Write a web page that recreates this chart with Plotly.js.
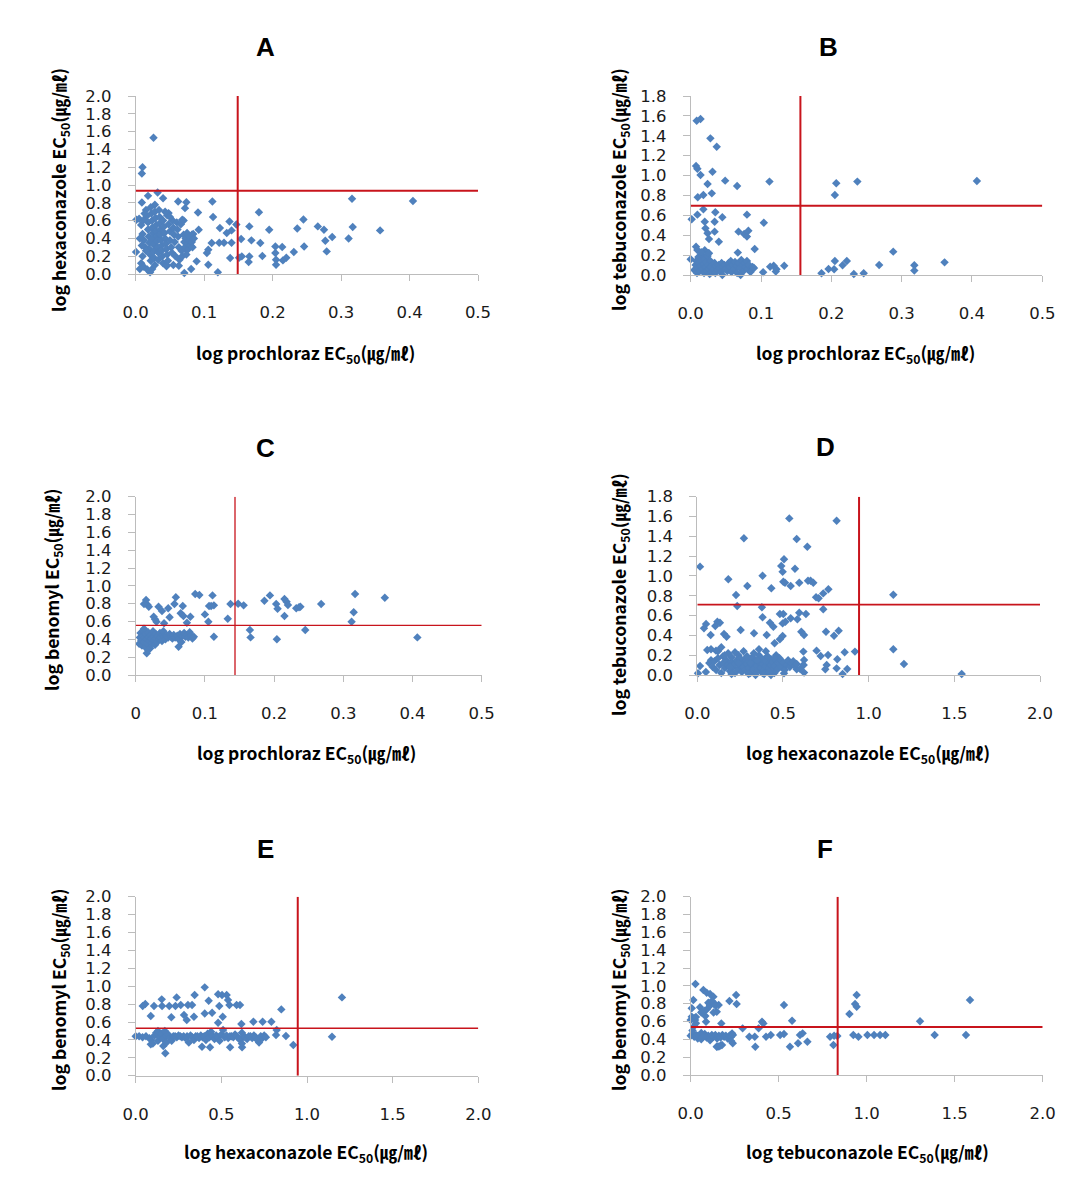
<!DOCTYPE html>
<html>
<head>
<meta charset="utf-8">
<script src="https://cdn.plot.ly/plotly-3.0.1.min.js"></script>
<style>
html,body{margin:0;padding:0;background:#fff;}
#chart{width:1085px;height:1194px;}
</style>
</head>
<body>
<div id="chart"></div>
<script>
// ---------------- DATA ----------------
const panelLetters = ['A','B','C','D','E','F'];
const xTitles = ['log prochloraz EC<sub>50</sub>(㎍/㎖)','log prochloraz EC<sub>50</sub>(㎍/㎖)','log prochloraz EC<sub>50</sub>(㎍/㎖)','log hexaconazole EC<sub>50</sub>(㎍/㎖)','log hexaconazole EC<sub>50</sub>(㎍/㎖)','log tebuconazole EC<sub>50</sub>(㎍/㎖)'];
const yTitles = ['log hexaconazole EC<sub>50</sub>(㎍/㎖)','log tebuconazole EC<sub>50</sub>(㎍/㎖)','log benomyl EC<sub>50</sub>(㎍/㎖)','log tebuconazole EC<sub>50</sub>(㎍/㎖)','log benomyl EC<sub>50</sub>(㎍/㎖)','log benomyl EC<sub>50</sub>(㎍/㎖)'];
const xMax = [0.5, 0.5, 0.5, 2.0, 2.0, 2.0];
const yMax = [2.0, 1.8, 2.0, 1.8, 2.0, 2.0];
const xTickStep = [0.1, 0.1, 0.1, 0.5, 0.5, 0.5];
const xTickFmt = ['.1f', '.1f', '', '.1f', '.1f', '.1f'];
const cutX = [0.149, 0.156, 0.1435, 0.944, 0.946, 0.835];
const cutY = [0.936, 0.697, 0.557, 0.710, 0.530, 0.538];

// Panel A: prochloraz (x) vs hexaconazole (y)
const ptsA = [
[0.026,1.53],[0.010,1.20],[0.009,1.13],[0.316,0.845],[0.405,0.82],[0.357,0.49],[0.317,0.527],[0.311,0.40],[0.287,0.415],[0.279,0.254],
[0.277,0.374],[0.275,0.497],[0.266,0.535],[0.245,0.613],[0.246,0.31],[0.236,0.512],[0.231,0.247],[0.220,0.183],[0.215,0.153],[0.214,0.303],
[0.204,0.31],[0.204,0.236],[0.205,0.16],[0.205,0.105],[0.195,0.497],[0.185,0.202],[0.182,0.348],[0.180,0.695],[0.169,0.378],[0.166,0.535],
[0.166,0.198],[0.165,0.135],[0.154,0.393],[0.155,0.198],[0.151,0.183],[0.147,0.557],[0.140,0.49],[0.137,0.59],[0.140,0.351],[0.138,0.179],
[0.133,0.46],[0.129,0.351],[0.122,0.351],[0.123,0.516],[0.120,0.019],[0.113,0.64],[0.112,0.815],[0.111,0.348],[0.106,0.273],[0.104,0.236],
[0.106,0.105],[0.091,0.69],[0.092,0.497],[0.089,0.142],[0.081,0.056],[0.071,0.011],[0.074,0.807],[0.072,0.74],[0.082,0.44],[0.078,0.348],
[0.074,0.273],[0.062,0.815],[0.068,0.61],[0.063,0.093],[0.045,0.086],[0.040,0.852],[0.032,0.916],[0.018,0.878],[0.028,0.778],[0.009,0.804],
[0.0005,0.247],[0.001,0.61],[0.021,0.019],[0.024,0.056],[0.006,0.056],[0.048,0.684],
[0.005,0.62],[0.008,0.55],[0.010,0.45],[0.012,0.38],[0.014,0.30],[0.010,0.20],[0.008,0.12],[0.012,0.08],[0.015,0.72],[0.016,0.65],
[0.018,0.58],[0.018,0.50],[0.019,0.42],[0.020,0.35],[0.020,0.28],[0.021,0.22],[0.022,0.15],[0.022,0.75],[0.023,0.68],[0.024,0.60],
[0.024,0.52],[0.025,0.46],[0.025,0.40],[0.026,0.33],[0.027,0.26],[0.027,0.18],[0.028,0.10],[0.028,0.70],[0.029,0.63],[0.030,0.55],
[0.030,0.48],[0.031,0.42],[0.031,0.37],[0.032,0.30],[0.033,0.24],[0.033,0.16],[0.034,0.72],[0.035,0.64],[0.035,0.57],[0.036,0.50],
[0.036,0.44],[0.037,0.38],[0.038,0.32],[0.038,0.26],[0.039,0.20],[0.040,0.12],[0.040,0.60],[0.041,0.53],[0.042,0.46],[0.043,0.40],
[0.044,0.34],[0.045,0.28],[0.046,0.22],[0.046,0.66],[0.048,0.56],[0.050,0.48],[0.050,0.38],[0.052,0.30],[0.053,0.24],[0.054,0.60],
[0.055,0.52],[0.056,0.44],[0.057,0.36],[0.058,0.20],[0.060,0.58],[0.061,0.50],[0.062,0.42],[0.063,0.30],[0.064,0.16],[0.066,0.56],
[0.067,0.26],[0.068,0.20],[0.070,0.60],[0.070,0.44],[0.071,0.36],[0.072,0.30],[0.073,0.40],[0.074,0.22],[0.075,0.46],[0.076,0.34],
[0.077,0.28],[0.078,0.38],[0.079,0.42],[0.080,0.32],[0.082,0.36],[0.083,0.30],[0.084,0.45],[0.085,0.40],[0.015,0.26],[0.017,0.05],
[0.013,0.68],[0.006,0.40],[0.009,0.32],[0.011,0.60],[0.043,0.70],[0.045,0.10],[0.050,0.64],[0.047,0.15],[0.055,0.10]
];

// Panel B: prochloraz (x) vs tebuconazole (y)
const ptsB = [
[0.0085,1.552],[0.014,1.569],[0.028,1.374],[0.037,1.29],[0.0076,1.096],[0.0095,1.069],[0.014,1.006],[0.031,1.039],[0.049,0.949],[0.024,0.915],
[0.066,0.895],[0.112,0.939],[0.207,0.922],[0.237,0.939],[0.407,0.945],[0.205,0.805],[0.010,0.781],[0.018,0.805],[0.030,0.821],[0.018,0.66],
[0.0095,0.607],[0.0014,0.56],[0.035,0.63],[0.034,0.536],[0.045,0.58],[0.080,0.607],[0.104,0.526],[0.020,0.536],[0.021,0.469],[0.024,0.419],
[0.026,0.362],[0.034,0.436],[0.040,0.335],[0.068,0.436],[0.076,0.412],[0.080,0.386],[0.082,0.446],[0.091,0.261],[0.067,0.225],[0.0076,0.285],
[0.0095,0.251],[0.026,0.218],[0.022,0.184],[0.0,0.158],[0.288,0.235],[0.361,0.127],[0.318,0.097],[0.318,0.044],[0.268,0.10],[0.222,0.141],
[0.216,0.097],[0.205,0.141],[0.204,0.057],[0.196,0.06],[0.186,0.017],[0.232,0.01],[0.246,0.017],[0.133,0.094],[0.121,0.034],[0.118,0.094],
[0.113,0.084],[0.103,0.027],[0.122,0.057],
[0.005,0.05],[0.007,0.10],[0.008,0.14],[0.009,0.02],[0.010,0.07],[0.011,0.18],[0.012,0.12],[0.013,0.04],[0.014,0.09],[0.015,0.15],
[0.016,0.20],[0.017,0.06],[0.018,0.11],[0.019,0.02],[0.020,0.16],[0.021,0.08],[0.022,0.13],[0.023,0.04],[0.024,0.19],[0.025,0.10],
[0.026,0.06],[0.027,0.01],[0.028,0.14],[0.029,0.08],[0.030,0.03],[0.032,0.11],[0.033,0.06],[0.034,0.12],[0.035,0.02],[0.036,0.09],
[0.038,0.05],[0.040,0.10],[0.041,0.07],[0.043,0.03],[0.044,0.12],[0.045,0.00],[0.046,0.08],[0.048,0.10],[0.050,0.06],[0.052,0.04],
[0.054,0.12],[0.055,0.08],[0.057,0.14],[0.058,0.03],[0.060,0.10],[0.062,0.06],[0.063,0.13],[0.065,0.09],[0.066,0.02],[0.068,0.12],
[0.070,0.07],[0.071,0.00],[0.072,0.15],[0.074,0.10],[0.075,0.04],[0.077,0.12],[0.078,0.08],[0.080,0.14],[0.081,0.06],[0.083,0.10],
[0.085,0.03],[0.088,0.08],[0.090,0.07],[0.020,0.25],[0.025,0.22],[0.015,0.23]
];

// Panel C: prochloraz (x) vs benomyl (y)
const ptsC = [
[0.015,0.841],[0.017,0.789],[0.019,0.766],[0.012,0.796],[0.026,0.654],[0.028,0.624],[0.030,0.598],[0.033,0.766],[0.038,0.718],[0.041,0.58],
[0.047,0.748],[0.049,0.647],[0.056,0.796],[0.058,0.871],[0.065,0.692],[0.068,0.774],[0.069,0.662],[0.074,0.587],[0.079,0.654],[0.062,0.318],
[0.016,0.243],[0.086,0.908],[0.092,0.897],[0.100,0.680],[0.105,0.598],[0.106,0.774],[0.111,0.893],[0.113,0.781],[0.109,0.774],[0.113,0.43],
[0.133,0.632],[0.137,0.796],[0.148,0.800],[0.156,0.781],[0.165,0.505],[0.166,0.422],[0.186,0.834],[0.194,0.893],[0.203,0.796],[0.205,0.744],
[0.204,0.40],[0.215,0.852],[0.218,0.822],[0.220,0.785],[0.215,0.662],[0.232,0.748],[0.236,0.759],[0.238,0.766],[0.245,0.505],[0.268,0.796],
[0.317,0.908],[0.315,0.703],[0.312,0.598],[0.360,0.867],[0.407,0.422],
[0.005,0.35],[0.006,0.42],[0.007,0.47],[0.008,0.39],[0.009,0.33],[0.010,0.44],[0.011,0.50],[0.012,0.37],[0.013,0.42],[0.014,0.31],
[0.015,0.46],[0.016,0.40],[0.017,0.35],[0.018,0.48],[0.019,0.43],[0.020,0.38],[0.021,0.30],[0.022,0.45],[0.023,0.41],[0.024,0.36],
[0.025,0.49],[0.026,0.43],[0.027,0.39],[0.028,0.34],[0.029,0.46],[0.030,0.41],[0.031,0.37],[0.032,0.44],[0.034,0.40],[0.035,0.47],
[0.036,0.42],[0.038,0.38],[0.039,0.45],[0.040,0.49],[0.041,0.43],[0.043,0.40],[0.045,0.44],[0.047,0.42],[0.049,0.46],[0.051,0.43],
[0.053,0.41],[0.055,0.45],[0.057,0.42],[0.060,0.44],[0.062,0.40],[0.064,0.46],[0.066,0.37],[0.068,0.44],[0.070,0.47],[0.072,0.43],
[0.074,0.45],[0.076,0.42],[0.078,0.48],[0.080,0.44],[0.082,0.41],[0.084,0.43],[0.012,0.52],[0.018,0.28]
];

// Panel D: hexaconazole (x) vs tebuconazole (y)
const ptsD = [
[0.016,1.094],[0.537,1.581],[0.813,1.558],[0.272,1.38],[0.580,1.373],[0.642,1.295],[0.506,1.168],[0.490,1.10],[0.570,1.073],[0.498,1.043],
[0.181,0.966],[0.381,1.003],[0.502,0.942],[0.512,0.932],[0.595,0.932],[0.646,0.952],[0.661,0.952],[0.677,0.932],[0.545,0.898],[0.292,0.898],
[0.432,0.875],[0.765,0.865],[0.735,0.824],[0.693,0.784],[0.708,0.774],[0.226,0.808],[1.144,0.811],[0.233,0.696],[0.377,0.683],[0.735,0.663],
[0.381,0.582],[0.545,0.572],[0.595,0.629],[0.634,0.616],[0.502,0.616],[0.482,0.616],[0.514,0.538],[0.498,0.521],[0.424,0.528],[0.444,0.488],
[0.607,0.437],[0.623,0.404],[0.584,0.562],[0.751,0.437],[0.825,0.447],[0.798,0.397],[0.498,0.394],[0.482,0.36],[0.451,0.32],[0.405,0.404],
[0.331,0.421],[0.253,0.454],[0.156,0.414],[0.171,0.387],[0.117,0.538],[0.105,0.495],[0.132,0.528],[0.051,0.515],[0.039,0.471],[0.078,0.404],
[0.109,0.246],[0.058,0.252],[0.016,0.091],[0.004,0.017],[1.144,0.259],[1.206,0.111],[1.543,0.010],[0.920,0.236],[0.860,0.229],[0.875,0.061],
[0.848,0.010],[0.817,0.158],[0.813,0.067],[0.747,0.057],[0.755,0.101],[0.696,0.246],[0.720,0.192],[0.763,0.202],[0.619,0.236],[0.623,0.151],
[0.619,0.101],[0.623,0.024],[0.580,0.057],[0.506,0.017],
[0.05,0.03],[0.07,0.12],[0.08,0.15],[0.09,0.08],[0.10,0.14],[0.11,0.05],[0.12,0.17],[0.13,0.10],[0.14,0.02],[0.15,0.19],
[0.15,0.12],[0.16,0.07],[0.17,0.15],[0.18,0.10],[0.18,0.22],[0.19,0.04],[0.20,0.13],[0.20,0.18],[0.21,0.08],[0.22,0.11],
[0.22,0.02],[0.23,0.15],[0.24,0.06],[0.24,0.20],[0.25,0.10],[0.26,0.13],[0.26,0.03],[0.27,0.08],[0.28,0.16],[0.28,0.05],
[0.29,0.11],[0.30,0.07],[0.30,0.14],[0.31,0.02],[0.32,0.10],[0.32,0.18],[0.33,0.06],[0.34,0.12],[0.34,0.15],[0.35,0.04],
[0.35,0.09],[0.36,0.20],[0.36,0.13],[0.37,0.07],[0.38,0.11],[0.38,0.02],[0.39,0.16],[0.39,0.05],[0.40,0.09],[0.40,0.14],
[0.41,0.19],[0.41,0.03],[0.42,0.12],[0.42,0.07],[0.43,0.10],[0.43,0.16],[0.44,0.05],[0.44,0.13],[0.45,0.09],[0.45,0.02],
[0.46,0.15],[0.47,0.06],[0.48,0.11],[0.49,0.08],[0.50,0.13],[0.51,0.05],[0.52,0.10],[0.53,0.15],[0.54,0.08],[0.55,0.12],
[0.56,0.14],[0.57,0.09],[0.58,0.11],[0.60,0.06],[0.62,0.10],[0.27,0.24],[0.22,0.23],[0.33,0.22],[0.36,0.26],[0.12,0.24],
[0.14,0.28],[0.16,0.20],[0.08,0.26],[0.30,0.01],[0.34,0.00],[0.39,0.01],[0.43,0.00],[0.20,0.01],[0.25,0.17],[0.29,0.19],
[0.46,0.20],[0.48,0.17],[0.40,0.24],[0.37,0.17],[0.19,0.08],[0.24,0.12],[0.31,0.12],[0.35,0.15],[0.42,0.03],[0.45,0.17]
];

// Panel E: hexaconazole (x) vs benomyl (y)
const ptsE = [
[1.204,0.875],[1.146,0.436],[0.850,0.741],[0.920,0.343],[0.877,0.443],[0.819,0.454],[0.823,0.51],[0.792,0.603],[0.741,0.603],[0.687,0.603],
[0.617,0.577],[0.609,0.79],[0.589,0.79],[0.539,0.845],[0.547,0.79],[0.531,0.901],[0.504,0.901],[0.481,0.909],[0.488,0.778],[0.508,0.659],
[0.481,0.592],[0.446,0.704],[0.426,0.838],[0.403,0.987],[0.403,0.696],[0.344,0.901],[0.340,0.659],[0.298,0.622],[0.282,0.678],[0.263,0.79],
[0.239,0.875],[0.208,0.652],[0.196,0.778],[0.232,0.778],[0.152,0.853],[0.154,0.778],[0.107,0.778],[0.088,0.667],[0.056,0.80],[0.041,0.778],
[0.305,0.79],[0.329,0.79],[0.173,0.25],[0.161,0.331],[0.387,0.324],[0.434,0.317],[0.551,0.317],[0.621,0.317],[0.088,0.35],
[0.00,0.44],[0.02,0.44],[0.04,0.43],[0.06,0.44],[0.08,0.42],[0.09,0.40],[0.10,0.36],[0.11,0.45],[0.12,0.48],[0.13,0.50],
[0.13,0.39],[0.14,0.43],[0.15,0.47],[0.16,0.41],[0.17,0.50],[0.18,0.37],[0.18,0.44],[0.19,0.46],[0.20,0.42],[0.21,0.39],
[0.22,0.44],[0.23,0.44],[0.24,0.43],[0.25,0.45],[0.26,0.44],[0.27,0.43],[0.28,0.44],[0.29,0.42],[0.30,0.44],[0.31,0.37],
[0.32,0.45],[0.33,0.43],[0.34,0.40],[0.35,0.44],[0.36,0.44],[0.37,0.42],[0.38,0.45],[0.39,0.43],[0.40,0.44],[0.41,0.40],
[0.42,0.47],[0.43,0.43],[0.44,0.49],[0.45,0.44],[0.46,0.41],[0.47,0.45],[0.48,0.43],[0.49,0.39],[0.50,0.46],[0.51,0.51],
[0.52,0.43],[0.53,0.45],[0.54,0.42],[0.55,0.44],[0.56,0.44],[0.57,0.43],[0.58,0.46],[0.59,0.44],[0.60,0.42],[0.61,0.40],
[0.62,0.48],[0.62,0.36],[0.63,0.44],[0.64,0.43],[0.65,0.41],[0.66,0.44],[0.67,0.44],[0.68,0.42],[0.69,0.45],[0.70,0.43],
[0.71,0.40],[0.72,0.37],[0.73,0.44],[0.74,0.42],[0.75,0.45],[0.76,0.43]
];

// Panel F: tebuconazole (x) vs benomyl (y)
const ptsF = [
[1.587,0.841],[1.564,0.449],[1.303,0.602],[1.386,0.449],[0.943,0.897],[0.934,0.796],[0.943,0.766],[0.902,0.684],[0.924,0.449],[0.953,0.43],
[1.004,0.449],[1.042,0.449],[1.076,0.449],[1.106,0.449],[0.833,0.437],[0.811,0.336],[0.792,0.43],[0.815,0.44],[0.530,0.785],[0.576,0.609],
[0.530,0.46],[0.564,0.318],[0.610,0.355],[0.621,0.449],[0.636,0.467],[0.663,0.374],[0.508,0.449],[0.455,0.449],[0.428,0.43],[0.405,0.598],
[0.413,0.579],[0.386,0.523],[0.364,0.43],[0.367,0.318],[0.333,0.43],[0.295,0.523],[0.258,0.897],[0.261,0.796],[0.220,0.83],[0.235,0.467],
[0.239,0.355],[0.174,0.579],[0.178,0.336],[0.148,0.318],[0.027,1.021],[0.015,0.841],[0.006,0.748],[0.006,0.654],[0.025,0.617],[0.0,0.617],
[0.053,0.759],[0.072,0.953],[0.091,0.923],[0.110,0.909],[0.129,0.879],[0.110,0.785],[0.091,0.736],[0.083,0.662],[0.087,0.598],[0.138,0.796],
[0.159,0.785],[0.148,0.71],[0.064,0.71],[0.038,0.437],
[0.00,0.44],[0.01,0.46],[0.02,0.43],[0.03,0.45],[0.04,0.41],[0.05,0.44],[0.06,0.47],[0.06,0.40],[0.07,0.44],[0.08,0.46],
[0.09,0.42],[0.10,0.44],[0.11,0.39],[0.12,0.45],[0.13,0.43],[0.14,0.45],[0.15,0.41],[0.16,0.44],[0.17,0.42],[0.18,0.45],
[0.19,0.43],[0.20,0.44],[0.21,0.41],[0.22,0.44],[0.23,0.43],[0.24,0.45],[0.15,0.32],[0.16,0.32],[0.17,0.33],[0.23,0.38],
[0.07,0.43],[0.01,0.50],[0.02,0.55],[0.03,0.58],[0.02,0.64],[0.03,0.65],[0.08,0.72],[0.06,0.70],[0.10,0.81],[0.11,0.78],
[0.12,0.83],[0.13,0.70],[0.14,0.78]
];

const allPts = [ptsA, ptsB, ptsC, ptsD, ptsE, ptsF];

// ---------------- LAYOUT GEOMETRY (pixels) ----------------
const W = 1085, H = 1194;
const boxes = [ // left, right, top, bottom of plot area in px
  [135.7, 478.0, 96.0, 274.0],
  [690.7, 1042.3, 96.0, 275.0],
  [135.7, 481.7, 496.7, 675.0],
  [697.3, 1040.0, 496.7, 675.0],
  [135.7, 478.3, 896.7, 1075.7],
  [690.7, 1042.7, 896.7, 1075.0]
];
const letterPos = [[265,47],[828,47],[265,448],[825,447],[265,849],[825,849]];
const xTitlePos = [[306,354],[866,354],[307,754],[868,754],[306,1153],[867,1153]];
const yTitlePos = [[60,190],[620,190],[53,590],[620,595],[60,990],[620,990]];
const vWidth = [2, 2, 1.3, 2, 2, 2];
const hWidth = [2, 2, 1.3, 1.6, 1.3, 2];

const markerColor = '#4f81bd';
const redColor = '#c8141c';
const axisGray = '#bcbcbc';
const tickFont = {family: 'DejaVu Sans, sans-serif', size: 16.5, color: '#1a1a1a'};
const titleFont = {family: 'Noto Sans CJK KR, Noto Sans, sans-serif', size: 17.5, color: '#000'};

const traces = [];
const layout = {
  width: W, height: H,
  margin: {l:0, r:0, t:0, b:0},
  paper_bgcolor: '#ffffff', plot_bgcolor: 'rgba(0,0,0,0)',
  showlegend: false,
  annotations: [], shapes: []
};

const px2x = p => p / W;
const px2y = p => 1 - p / H;

for (let i = 0; i < 6; i++) {
  const n = i === 0 ? '' : String(i + 1);
  const xa = 'x' + n, ya = 'y' + n;
  const b = boxes[i];
  layout['xaxis' + n] = {
    domain: [px2x(b[0]), px2x(b[1])],
    range: [0, xMax[i]],
    anchor: ya,
    tick0: 0, dtick: xTickStep[i], tickmode: 'linear',
    tickformat: xTickFmt[i],
    showgrid: false, zeroline: false,
    showline: true, linecolor: axisGray, linewidth: 1,
    ticks: 'outside', ticklen: 6, tickcolor: axisGray, tickwidth: 1,
    tickfont: tickFont,
    ticklabelstandoff: 17,
    fixedrange: true
  };
  layout['yaxis' + n] = {
    domain: [px2y(b[3]), px2y(b[2])],
    range: [0, yMax[i]],
    anchor: xa,
    tick0: 0, dtick: 0.2, tickmode: 'linear',
    tickformat: '.1f',
    showgrid: false, zeroline: false,
    showline: true, linecolor: axisGray, linewidth: 1,
    ticks: 'outside', ticklen: 7, tickcolor: axisGray, tickwidth: 1,
    tickfont: tickFont,
    ticklabelstandoff: 13,
    fixedrange: true
  };

  const pts = allPts[i];
  traces.push({
    type: 'scatter', mode: 'markers',
    x: pts.map(p => p[0]), y: pts.map(p => p[1]),
    xaxis: xa, yaxis: ya,
    cliponaxis: false,
    marker: {symbol: 'diamond', size: 6.5, color: markerColor, line: {width: 0}}
  });

  // threshold lines
  layout.shapes.push({
    type: 'line', xref: xa, yref: ya,
    x0: cutX[i], x1: cutX[i], y0: 0, y1: yMax[i],
    line: {color: redColor, width: vWidth[i]}
  });
  layout.shapes.push({
    type: 'line', xref: xa, yref: ya,
    x0: 0, x1: xMax[i], y0: cutY[i], y1: cutY[i],
    line: {color: redColor, width: hWidth[i]}
  });

  // panel letter
  layout.annotations.push({
    xref: 'paper', yref: 'paper',
    x: px2x(letterPos[i][0]), y: px2y(letterPos[i][1]),
    xanchor: 'center', yanchor: 'middle', showarrow: false,
    text: '<b>' + panelLetters[i] + '</b>',
    font: {family: 'Liberation Sans, Arial, sans-serif', size: 26, color: '#000'}
  });
  // x title
  layout.annotations.push({
    xref: 'paper', yref: 'paper',
    x: px2x(xTitlePos[i][0]), y: px2y(xTitlePos[i][1]),
    xanchor: 'center', yanchor: 'middle', showarrow: false,
    text: '<b>' + xTitles[i] + '</b>',
    font: titleFont
  });
  // y title
  layout.annotations.push({
    xref: 'paper', yref: 'paper',
    x: px2x(yTitlePos[i][0]), y: px2y(yTitlePos[i][1]),
    xanchor: 'center', yanchor: 'middle', showarrow: false,
    textangle: -90,
    text: '<b>' + yTitles[i] + '</b>',
    font: titleFont
  });
}

Plotly.newPlot('chart', traces, layout, {staticPlot: true, displayModeBar: false});
</script>
</body>
</html>
